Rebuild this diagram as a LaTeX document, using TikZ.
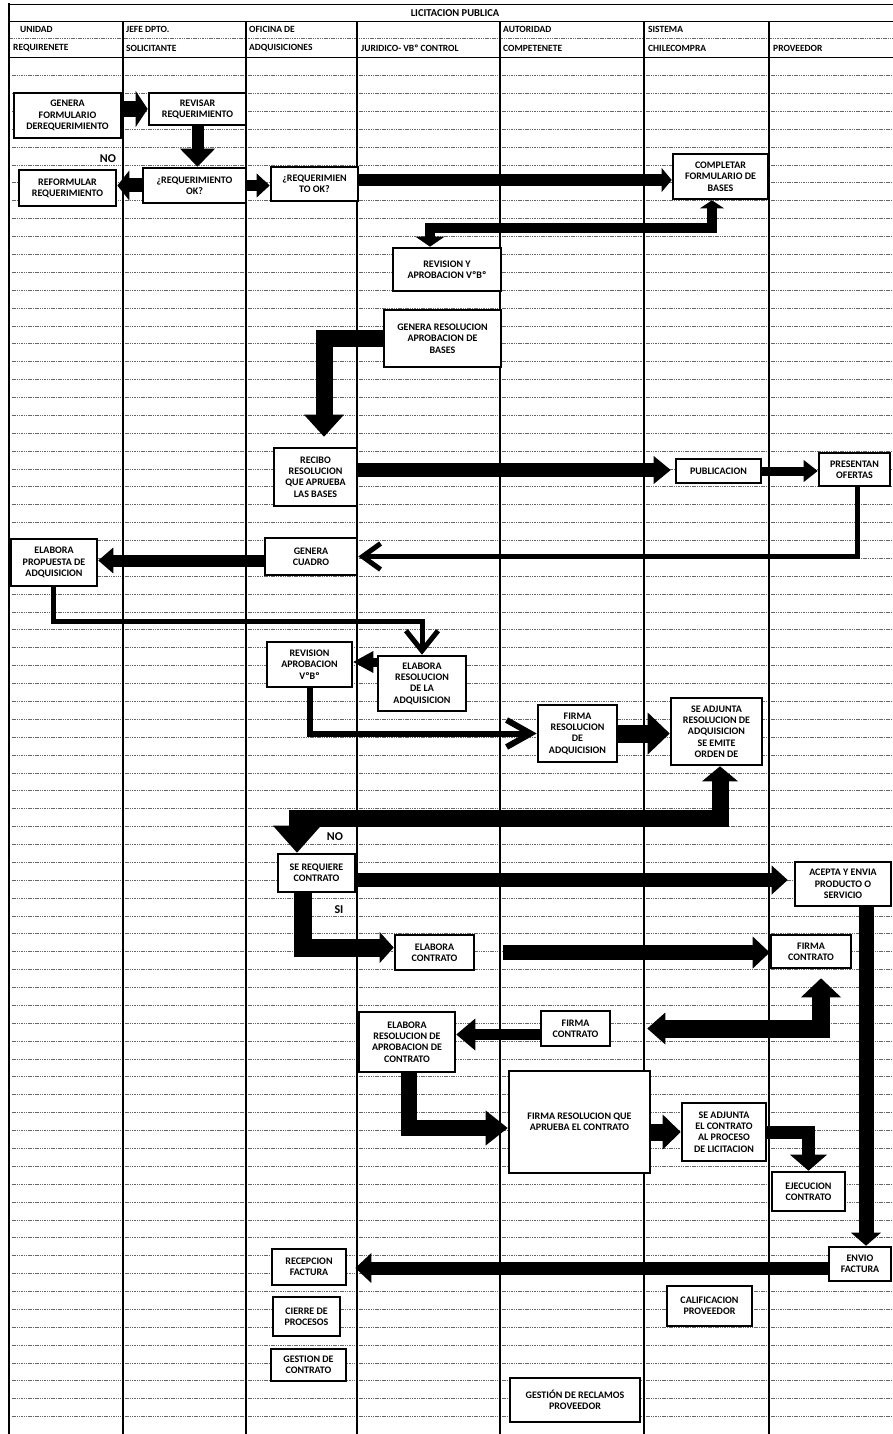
\documentclass[tikz,border=0pt]{standalone}
\usepackage{fontspec}
\setmainfont{Carlito}
\usetikzlibrary{arrows.meta,calc}
\begin{document}
\begin{tikzpicture}[x=1pt,y=-1pt,
  box/.style={draw=black, line width=2.6pt, fill=white, align=center, inner sep=1pt,
    font=\fontsize{10}{11.3}\selectfont\bfseries},
  lane/.style={line width=1.3pt},
  grid/.style={black!60, line width=0.75pt, dash pattern=on 1.5pt off 0.8pt},
  hdr/.style={font=\fontsize{9.5}{10}\selectfont\bfseries, anchor=west, inner sep=0pt},
  lbl/.style={font=\fontsize{12}{14}\selectfont\bfseries, inner sep=0pt},
  ah/.style 2 args={-{Triangle[length=#1,width=#2,line width=0pt]}},
  dah/.style n args={4}{{Triangle[length=#1,width=#2,line width=0pt]}-{Triangle[length=#3,width=#4,line width=0pt]}},
  bh/.style 2 args={-{Straight Barb[length=#1,width=#2]}},
]
\useasboundingbox[fill=white] (0,0) rectangle (893,1434);

% ---- grid of dotted lines ----
\foreach \n in {1,...,76}{
  \pgfmathsetmacro\yy{57.7+17.88*\n}
  \foreach \xa/\xb in {12/121,125/244,248/355,359/498,502/642,646/767,771/893}
    \draw[grid] (\xa,\yy) -- (\xb,\yy);
}

% ---- frame and header ----
\draw[line width=0.8pt] (9,4) -- (893,4);
\draw[line width=0.9pt] (9,21) -- (893,21);
\draw[grid] (9,38) -- (893,38);
\draw[line width=1.2pt] (9,57.7) -- (893,57.7);
\draw[line width=2.6pt] (9,3) -- (9,1434);
\foreach \x in {123,246,357,500,644,769} \draw[lane] (\x,21) -- (\x,1434);

\node[hdr, anchor=center, font=\fontsize{10.5}{12}\selectfont\bfseries] (title) at (455,13) {LICITACION PUBLICA};
\node[hdr] (h1a) at (20,29) {UNIDAD};
\node[hdr] (h1b) at (13,48) {REQUIRENETE};
\node[hdr] (h2a) at (126,29) {JEFE DPTO.};
\node[hdr] (h2b) at (126,48) {SOLICITANTE};
\node[hdr] (h3a) at (249,29) {OFICINA DE};
\node[hdr] (h3b) at (249,48) {ADQUISICIONES};
\node[hdr] (h4b) at (361,48) {JURIDICO- VBº CONTROL};
\node[hdr] (h5a) at (503,29) {AUTORIDAD};
\node[hdr] (h5b) at (503,48) {COMPETENETE};
\node[hdr] (h6a) at (648,29) {SISTEMA};
\node[hdr] (h6b) at (648,48) {CHILECOMPRA};
\node[hdr] (h7b) at (773,48) {PROVEEDOR};

% ---- boxes ----
\node[box, minimum width=107pt, minimum height=45pt] (gen) at (67.5,115.5) {GENERA\\FORMULARIO\\DEREQUERIMIENTO};
\node[box, minimum width=97pt, minimum height=32pt] (rev) at (197.5,109) {REVISAR\\REQUERIMIENTO};
\node[box, minimum width=103pt, minimum height=35pt] (reqok) at (194.5,185.5) {¿REQUERIMIENTO\\OK?};
\node[box, minimum width=97pt, minimum height=36pt] (refor) at (67.5,188) {REFORMULAR\\REQUERIMIENTO};
\node[box, minimum width=87pt, minimum height=34pt] (reqok2) at (314.5,184) {¿REQUERIMIEN\\TO OK?};
\node[box, minimum width=95pt, minimum height=45pt] (compl) at (720.5,176.5) {COMPLETAR\\FORMULARIO DE\\BASES};
\node[box, minimum width=108pt, minimum height=43pt] (revap) at (447,269.5) {REVISION Y\\APROBACION VºBº};
\node[box, minimum width=117pt, minimum height=57pt] (genres) at (442.5,338.5) {GENERA RESOLUCION\\APROBACION DE\\BASES};
\node[box, minimum width=83pt, minimum height=58pt] (recibo) at (315.5,477) {RECIBO\\RESOLUCION\\QUE APRUEBA\\LAS BASES};
\node[box, minimum width=85pt, minimum height=24pt] (publ) at (718.5,471) {PUBLICACION};
\node[box, minimum width=71pt, minimum height=33pt] (ofer) at (854.5,469.5) {PRESENTAN\\OFERTAS};
\node[box, minimum width=92pt, minimum height=37pt] (cuadro) at (311,556.5) {GENERA\\CUADRO};
\node[box, minimum width=86pt, minimum height=47pt] (prop) at (54,562.5) {ELABORA\\PROPUESTA DE\\ADQUISICION};
\node[box, minimum width=88pt, minimum height=55pt] (elares) at (422,683.5) {ELABORA\\RESOLUCION\\DE LA\\ADQUISICION};
\node[box, minimum width=85pt, minimum height=45pt] (revap2) at (309.5,664.5) {REVISION\\APROBACION\\VºBº};
\node[box, minimum width=79pt, minimum height=57pt] (firmares) at (577.5,733.5) {FIRMA\\RESOLUCION\\DE\\ADQUICISION};
\node[box, minimum width=91pt, minimum height=67pt] (adj) at (716.5,731.5) {SE ADJUNTA\\RESOLUCION DE\\ADQUISICION\\SE EMITE\\ORDEN DE};
\node[box, minimum width=77pt, minimum height=38pt] (sereq) at (316.5,873) {SE REQUIERE\\CONTRATO};
\node[box, minimum width=96pt, minimum height=44pt] (acepta) at (843,884) {ACEPTA Y ENVIA\\PRODUCTO O\\SERVICIO};
\node[box, minimum width=79pt, minimum height=35pt] (elacon) at (434.5,952.5) {ELABORA\\CONTRATO};
\node[box, minimum width=80pt, minimum height=33pt] (firmacon) at (811,951.5) {FIRMA\\CONTRATO};
\node[box, minimum width=69pt, minimum height=35pt] (firmacon2) at (575.5,1028.5) {FIRMA\\CONTRATO};
\node[box, minimum width=96pt, minimum height=60pt] (elaresap) at (407,1042) {ELABORA\\RESOLUCION DE\\APROBACION DE\\CONTRATO};
\node[box, minimum width=141pt, minimum height=102pt] (firmaresq) at (579.5,1122) {FIRMA RESOLUCION QUE\\APRUEBA EL CONTRATO};
\node[box, minimum width=84pt, minimum height=58pt] (adj2) at (724,1132) {SE ADJUNTA\\EL CONTRATO\\AL PROCESO\\DE LICITACION};
\node[box, minimum width=73pt, minimum height=39pt] (ejec) at (808.5,1191.5) {EJECUCION\\CONTRATO};
\node[box, minimum width=62pt, minimum height=34pt] (envio) at (860,1264) {ENVIO\\FACTURA};
\node[box, minimum width=74pt, minimum height=36pt] (recep) at (309,1267) {RECEPCION\\FACTURA};
\node[box, minimum width=67pt, minimum height=39pt] (cierre) at (306.5,1316.5) {CIERRE DE\\PROCESOS};
\node[box, minimum width=75pt, minimum height=32pt] (gestcon) at (308.5,1365) {GESTION DE\\CONTRATO};
\node[box, minimum width=85pt, minimum height=40pt] (calif) at (709.5,1306) {CALIFICACION\\PROVEEDOR};
\node[box, minimum width=130pt, minimum height=44pt] (gestrec) at (575,1400) {GESTIÓN DE RECLAMOS\\PROVEEDOR};

% ---- labels ----
\node[lbl] (no1) at (108,159) {NO};
\node[lbl] (no2) at (335,837) {NO};
\node[lbl] (si) at (339,910) {SI};

% ---- connectors ----
\draw[line width=16pt, ah={12pt}{36pt}] (gen.east |- rev.west) -- (rev.west);
\draw[line width=12pt, ah={18pt}{35pt}] (rev.south) -- (rev.south |- reqok.north);
\draw[line width=14pt, ah={12pt}{30pt}] (reqok.west) -- (refor.east |- reqok.west);
\draw[line width=11pt, ah={13pt}{24pt}] (reqok.east) -- (reqok2.west |- reqok.east);
\coordinate (a5) at ([yshift=4pt]reqok2.east);
\draw[line width=12pt, ah={10pt}{24pt}] (a5) -- (compl.west |- a5);
\coordinate (a6s) at ([xshift=-17pt]revap.north);
\coordinate (a6e) at ([xshift=-8.5pt]compl.south);
\draw[line width=10pt, dah={10pt}{29pt}{8pt}{24pt}] (a6s) |- ($(a6e)+(0,28)$) -- (a6e);
\coordinate (a7e) at ([xshift=8.5pt,yshift=10pt]recibo.north);
\draw[line width=17pt, ah={22pt}{40pt}] (genres.west) -| (a7e);
\coordinate (a8) at ([yshift=7pt]recibo.east);
\draw[line width=14pt, ah={17pt}{28pt}, shorten >=4pt] (a8) -- (publ.west |- a8);
\draw[line width=9pt, ah={14pt}{22pt}] (publ.east) -- (ofer.west |- publ.east);
\draw[line width=5pt, bh={18pt}{26pt}] ([xshift=2.5pt]ofer.south) |- (cuadro.east);
\coordinate (a11) at ([yshift=-4pt]cuadro.west);
\draw[line width=12pt, ah={15pt}{26pt}] (a11) -- (prop.east |- a11);
\coordinate (a12) at ($(elares.north)+(0,-33)$);
\draw[line width=5pt, bh={20pt}{32pt}] ([xshift=-1pt]prop.south) |- (a12) -- (elares.north);
\coordinate (a13) at ([yshift=21.5pt]elares.west);
\draw[line width=9pt, ah={20pt}{22pt}] (a13) -- (revap2.east |- a13);
\draw[line width=6pt, bh={24pt}{27pt}] (revap2.south) |- (firmares.west);
\draw[line width=18pt, ah={22pt}{42pt}] (firmares.east) -- (adj.west |- firmares.east);
\coordinate (a16s) at ([xshift=-19.5pt]sereq.north);
\coordinate (a16e) at ([xshift=3.5pt]adj.south);
\draw[line width=17pt, dah={27pt}{48pt}{15pt}{36pt}] (a16s) |- ($(a16e)+(0,52)$) -- (a16e);
\coordinate (a17) at ([yshift=-7pt]sereq.east);
\draw[line width=14pt, ah={16pt}{29pt}, shorten >=6pt] (a17) -- (acepta.west |- a17);
\coordinate (a18s) at ([xshift=-14pt]sereq.south);
\coordinate (a18e) at ([yshift=5pt]elacon.west);
\draw[line width=18pt, ah={14pt}{31pt}] (a18s) |- (a18e);
\draw[line width=15pt, ah={17pt}{32pt}, shorten <=28pt] (elacon.east) -- (firmacon.west |- elacon.east);
\coordinate (a20e) at ([xshift=10pt,yshift=-9pt]firmacon.south);
\draw[line width=18pt, dah={18pt}{32pt}{19pt}{40pt}, shorten <=36pt] (firmacon2.east) -| (a20e);
\coordinate (a21) at ([yshift=-6pt]firmacon2.west);
\draw[line width=11pt, ah={19pt}{32pt}] (a21) -- (elaresap.east |- a21);
\coordinate (a22e) at ([yshift=-6pt]firmaresq.west);
\draw[line width=16pt, ah={22pt}{35pt}] ([xshift=2pt]elaresap.south) |- (a22e);
\draw[line width=17pt, ah={18pt}{35pt}] (firmaresq.east |- adj2.west) -- (adj2.west);
\draw[line width=13pt, ah={16pt}{37pt}] (adj2.east) -| (ejec.north);
\draw[line width=15pt, ah={13pt}{30pt}] ([xshift=23pt]acepta.south) -- ([xshift=6pt]envio.north);
\coordinate (a26) at ([yshift=-4pt]envio.west);
\draw[line width=13pt, ah={16pt}{30pt}, shorten >=8pt] (a26) -- (recep.east |- a26);
\end{tikzpicture}
\end{document}
